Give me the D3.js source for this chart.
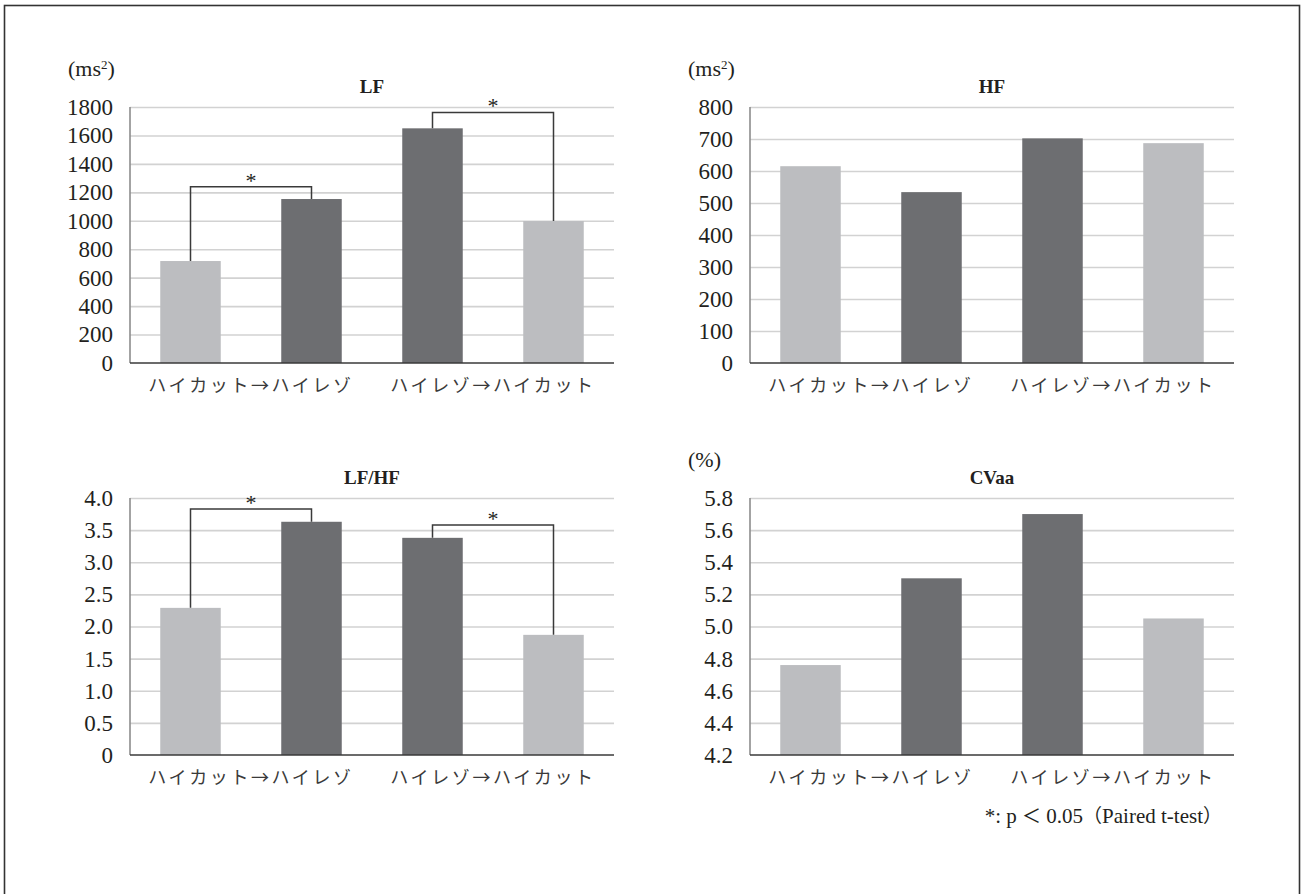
<!DOCTYPE html>
<html>
<head>
<meta charset="utf-8">
<script src="https://cdn.jsdelivr.net/npm/d3@7"></script>
<style>
  html, body { margin: 0; padding: 0; background: #fff; }
  svg { display: block; }
</style>
</head>
<body>
<svg id="chart" width="1304" height="894"></svg>
<script>
// bars in order: group 1 (before, after), group 2 (before, after)
const groups = ['ハイカット→ハイレゾ', 'ハイレゾ→ハイカット'];
const bars = ['g1-ハイカット', 'g1-ハイレゾ', 'g2-ハイレゾ', 'g2-ハイカット'];
const barCondition = ['ハイカット', 'ハイレゾ', 'ハイレゾ', 'ハイカット'];

const lfValues = [717, 1153, 1650, 998];
const hfValues = [615, 534, 702, 687];
const lfhfValues = [2.29, 3.63, 3.38, 1.87];
const cvaaValues = [4.76, 5.30, 5.70, 5.05];

const lfTicks = [0, 200, 400, 600, 800, 1000, 1200, 1400, 1600, 1800];
const hfTicks = [0, 100, 200, 300, 400, 500, 600, 700, 800];
const lfhfTicks = [0, 0.5, 1.0, 1.5, 2.0, 2.5, 3.0, 3.5, 4.0];
const cvaaTicks = [4.2, 4.4, 4.6, 4.8, 5.0, 5.2, 5.4, 5.6, 5.8];

// significance brackets: bar index pairs and bracket height in data units
const lfSig = [{ from: 0, to: 1, y: 1240 }, { from: 2, to: 3, y: 1762 }];
const lfhfSig = [{ from: 0, to: 1, y: 3.83 }, { from: 2, to: 3, y: 3.58 }];

const color = d3.scaleOrdinal()
  .domain(['ハイカット', 'ハイレゾ'])
  .range(['#bcbdc0', '#6d6e71']);

const serif = '"Liberation Serif", "DejaVu Serif", serif';
const cjk = '"Noto Sans CJK JP", sans-serif';

const svg = d3.select('#chart');

// outer frame
svg.append('rect')
  .attr('x', 4.5).attr('y', 5.5)
  .attr('width', 1295).attr('height', 900)
  .attr('fill', 'none')
  .attr('stroke', '#333')
  .attr('stroke-width', 1.6);

function drawPanel({ left, top, width, height, title, unit, values, ticks, format, sig }) {
  const g = svg.append('g').attr('transform', `translate(${left},${top})`);

  const x = d3.scaleBand().domain(bars).range([0, width]).paddingInner(0.5).paddingOuter(0.25);
  const y = d3.scaleLinear().domain([ticks[0], ticks[ticks.length - 1]]).range([height, 0]);

  // gridlines
  g.append('g')
    .call(d3.axisLeft(y).tickValues(ticks.slice(1)).tickSize(-width).tickFormat(''))
    .call(s => s.select('.domain').remove())
    .call(s => s.selectAll('line').attr('stroke', '#d2d2d2').attr('stroke-width', 1.6));

  // tick labels
  g.append('g')
    .attr('font-family', serif)
    .call(d3.axisLeft(y).tickValues(ticks).tickSize(0).tickPadding(17).tickFormat(format))
    .call(s => s.select('.domain').remove())
    .call(s => s.selectAll('text')
      .style('font-family', serif)
      .style('font-size', '23px')
      .style('fill', '#231f20'));

  // bars
  g.selectAll('rect.bar')
    .data(values)
    .join('rect')
      .attr('class', 'bar')
      .attr('x', (d, i) => x(bars[i]))
      .attr('width', x.bandwidth())
      .attr('y', d => y(d))
      .attr('height', d => height - y(d))
      .attr('fill', (d, i) => color(barCondition[i]));

  // axis lines
  g.append('line')
    .attr('x1', 0).attr('x2', 0).attr('y1', 0).attr('y2', height)
    .attr('stroke', '#8c8c8c').attr('stroke-width', 1.6);
  g.append('line')
    .attr('x1', 0).attr('x2', width).attr('y1', height).attr('y2', height)
    .attr('stroke', '#3a3a3a').attr('stroke-width', 1.6);

  // group labels under each pair of bars
  const cx = i => x(bars[i]) + x.bandwidth() / 2;
  g.selectAll('text.group')
    .data(groups)
    .join('text')
      .attr('class', 'group')
      .attr('x', (d, i) => (cx(i * 2) + cx(i * 2 + 1)) / 2)
      .attr('y', height + 29)
      .attr('text-anchor', 'middle')
      .style('font-family', cjk)
      .style('font-size', '18px')
      .style('letter-spacing', '2.6px')
      .style('fill', '#3a3a3a')
      .text(d => d);

  // title
  g.append('text')
    .attr('x', width / 2)
    .attr('y', -14)
    .attr('text-anchor', 'middle')
    .style('font-family', serif)
    .style('font-weight', 'bold')
    .style('font-size', '19px')
    .style('fill', '#231f20')
    .text(title);

  // unit
  if (unit) {
    const t = g.append('text')
      .attr('x', -62)
      .attr('y', -31)
      .style('font-family', serif)
      .style('font-size', '22px')
      .style('fill', '#231f20');
    unit(t);
  }

  // significance brackets
  if (sig) {
    sig.forEach(s => {
      const x1 = cx(s.from), x2 = cx(s.to), yb = y(s.y);
      g.append('path')
        .attr('d', `M${x1},${y(values[s.from])}V${yb}H${x2}V${y(values[s.to])}`)
        .attr('fill', 'none')
        .attr('stroke', '#3a3a3a')
        .attr('stroke-width', 1.5);
      g.append('text')
        .attr('x', (x1 + x2) / 2)
        .attr('y', yb + 1)
        .attr('text-anchor', 'middle')
        .style('font-family', serif)
        .style('font-size', '22px')
        .style('fill', '#231f20')
        .text('*');
    });
  }
}

const msUnit = t => {
  t.append('tspan').text('(ms');
  t.append('tspan').attr('dy', -7).style('font-size', '13px').text('2');
  t.append('tspan').attr('dy', 7).text(')');
};
const pctUnit = t => t.text('(%)');

const intFmt = d3.format('d');
const oneFmt = d => d === 0 ? '0' : d.toFixed(1);

drawPanel({ left: 130, top: 107, width: 484, height: 256, title: 'LF', unit: msUnit,
  values: lfValues, ticks: lfTicks, format: intFmt, sig: lfSig });
drawPanel({ left: 750, top: 107, width: 484, height: 256, title: 'HF', unit: msUnit,
  values: hfValues, ticks: hfTicks, format: intFmt });
drawPanel({ left: 130, top: 498, width: 484, height: 257, title: 'LF/HF',
  values: lfhfValues, ticks: lfhfTicks, format: oneFmt, sig: lfhfSig });
drawPanel({ left: 750, top: 498, width: 484, height: 257, title: 'CVaa', unit: pctUnit,
  values: cvaaValues, ticks: cvaaTicks, format: d => d.toFixed(1) });

// footnote
const note = svg.append('text')
  .attr('x', 1222)
  .attr('y', 823)
  .attr('text-anchor', 'end')
  .style('font-family', serif)
  .style('font-size', '21px')
  .style('fill', '#231f20');
note.append('tspan').text('*: p ');
note.append('tspan').style('font-family', cjk).style('font-size', '19px').text('＜');
note.append('tspan').text(' 0.05');
note.append('tspan').style('font-family', cjk).style('font-size', '19px').text('（');
note.append('tspan').text('Paired t-test');
note.append('tspan').style('font-family', cjk).style('font-size', '19px').text('）');
</script>
</body>
</html>
